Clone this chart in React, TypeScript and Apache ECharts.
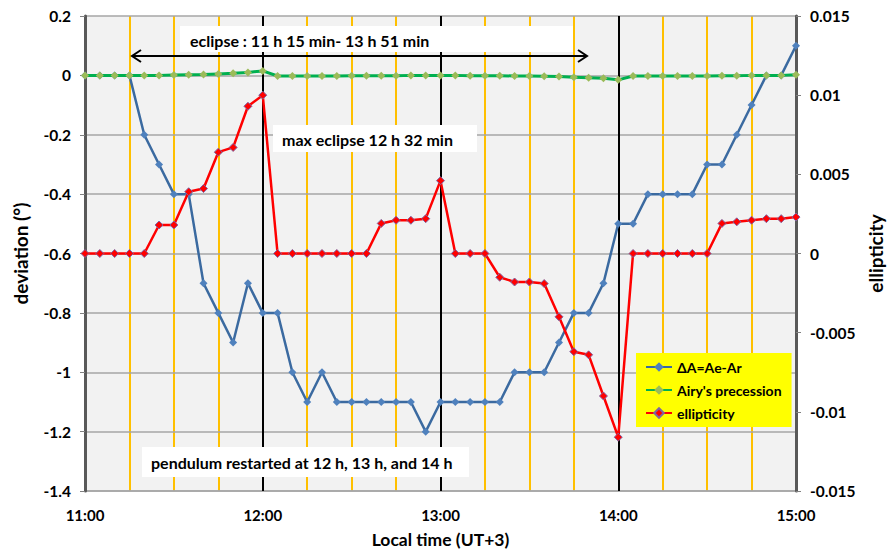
import React, { useEffect, useRef } from "react";
import * as echarts from "echarts";

const times = [
  "11:00", "11:05", "11:10", "11:15", "11:20", "11:25", "11:30", "11:35", "11:40", "11:45", "11:50", "11:55",
  "12:00", "12:05", "12:10", "12:15", "12:20", "12:25", "12:30", "12:35", "12:40", "12:45", "12:50", "12:55",
  "13:00", "13:05", "13:10", "13:15", "13:20", "13:25", "13:30", "13:35", "13:40", "13:45", "13:50", "13:55",
  "14:00", "14:05", "14:10", "14:15", "14:20", "14:25", "14:30", "14:35", "14:40", "14:45", "14:50", "14:55",
  "15:00",
];

const deltaA = [
  0, 0, 0, 0, -0.2, -0.3, -0.4, -0.4, -0.7, -0.8, -0.9, -0.7,
  -0.8, -0.8, -1.0, -1.1, -1.0, -1.1, -1.1, -1.1, -1.1, -1.1, -1.1, -1.2,
  -1.1, -1.1, -1.1, -1.1, -1.1, -1.0, -1.0, -1.0, -0.9, -0.8, -0.8, -0.7,
  -0.5, -0.5, -0.4, -0.4, -0.4, -0.4, -0.3, -0.3, -0.2, -0.1, 0, 0,
  0.1,
];

const airy = [
  0, 0, 0, 0, 0, 0, 0.001, 0.002, 0.003, 0.005, 0.007, 0.01,
  0.015, -0.002, -0.002, -0.002, -0.002, -0.002, -0.001, -0.001, -0.001, -0.001, 0, 0,
  0, 0, -0.001, -0.001, -0.001, -0.002, -0.002, -0.003, -0.004, -0.006, -0.008, -0.01,
  -0.015, -0.002, -0.002, -0.002, -0.002, -0.002, -0.002, -0.001, -0.001, 0, 0, 0,
  0.002,
];

const ellipticity = [
  0, 0, 0, 0, 0, 0.0018, 0.0018, 0.0039, 0.0041, 0.0064, 0.0067, 0.0093,
  0.01, 0, 0, 0, 0, 0, 0, 0, 0.0019, 0.0021, 0.0021, 0.0022,
  0.0046, 0, 0, 0, -0.0015, -0.0018, -0.0018, -0.0019, -0.004, -0.0062, -0.0064, -0.009,
  -0.0116, 0, 0, 0, 0, 0, 0, 0.0019, 0.002, 0.0021, 0.0022, 0.0022,
  0.0023,
];

const leftTicks = { min: -1.4, max: 0.2, interval: 0.2 };
const rightTicks = { min: -0.015, max: 0.015, interval: 0.005 };

const seriesNames = ["ΔA=Ae-Ar", "Airy's precession", "ellipticity"];
const notes = [
  "eclipse : 11 h 15 min- 13 h 51 min",
  "max eclipse 12 h 32 min",
  "pendulum restarted at 12 h, 13 h, and 14 h",
];

const FONT = "Lato";

export default function App() {
  const ref = useRef<HTMLDivElement>(null);

  useEffect(() => {
    const chart = echarts.init(ref.current!, null, { renderer: "svg" });
    const bold = { fontFamily: FONT, fontWeight: "bold" as const, color: "#000" };
    chart.setOption({
      animation: false,
      backgroundColor: "#ffffff",
      textStyle: { fontFamily: FONT },
      grid: {
        left: 85,
        right: 98,
        top: 16,
        bottom: 58,
        show: true,
        backgroundColor: "#f2f2f2",
        borderWidth: 0,
      },
      legend: {
        orient: "vertical",
        left: 636,
        top: 353,
        backgroundColor: "#ffff00",
        padding: [7, 10, 7, 9],
        itemGap: 9,
        itemWidth: 26,
        itemHeight: 12,
        textStyle: { ...bold, fontSize: 14 },
        data: seriesNames,
      },
      xAxis: [
        {
          type: "category",
          data: times,
          boundaryGap: false,
          axisLine: { show: true, onZero: false, lineStyle: { color: "#a6a6a6", width: 1.5 } },
          axisTick: { show: false },
          axisLabel: { interval: 11, ...bold, fontSize: 15, margin: 16 },
          splitLine: { show: true, interval: 2, lineStyle: { color: "#ffc000", width: 2 } },
          name: "Local time (UT+3)",
          nameLocation: "middle",
          nameGap: 39,
          nameTextStyle: { ...bold, fontSize: 17.5 },
        },
        {
          type: "category",
          data: times,
          boundaryGap: false,
          position: "bottom",
          z: 1,
          axisLine: { show: false },
          axisTick: { show: false },
          axisLabel: { show: false },
          splitLine: { show: true, interval: 11, lineStyle: { color: "#000000", width: 2 } },
        },
      ],
      yAxis: [
        {
          type: "value",
          ...leftTicks,
          z: 1,
          axisLine: { show: true, lineStyle: { color: "#595959", width: 3 } },
          axisTick: { show: true, length: 5, lineStyle: { color: "#808080" } },
          axisLabel: { ...bold, fontSize: 15.5, margin: 14 },
          splitLine: { show: true, lineStyle: { color: "#a6a6a6", width: 1.5 } },
          name: "deviation (°)",
          nameLocation: "middle",
          nameGap: 55,
          nameTextStyle: { ...bold, fontSize: 19 },
        },
        {
          type: "value",
          position: "right",
          ...rightTicks,
          z: 1,
          axisLine: { show: true, lineStyle: { color: "#595959", width: 3 } },
          axisTick: { show: true, length: 5, lineStyle: { color: "#808080" } },
          axisLabel: { ...bold, fontSize: 15.5, margin: 14 },
          splitLine: { show: false },
          name: "ellipticity",
          nameLocation: "middle",
          nameGap: 65,
          nameTextStyle: { ...bold, fontSize: 19 },
        },
      ],
      series: [
        {
          name: seriesNames[0],
          type: "line",
          data: deltaA,
          xAxisIndex: 0,
          yAxisIndex: 0,
          symbol: "diamond",
          symbolSize: 8,
          lineStyle: { color: "#3b6aa0", width: 2.5 },
          itemStyle: { color: "#4f81bd" },
          z: 3,
        },
        {
          name: seriesNames[1],
          type: "line",
          data: airy,
          xAxisIndex: 0,
          yAxisIndex: 0,
          symbol: "diamond",
          symbolSize: 8,
          lineStyle: { color: "#00b050", width: 3 },
          itemStyle: { color: "#9bbb59" },
          z: 4,
        },
        {
          name: seriesNames[2],
          type: "line",
          data: ellipticity,
          xAxisIndex: 0,
          yAxisIndex: 1,
          symbol: "diamond",
          symbolSize: 8,
          lineStyle: { color: "#ff0000", width: 2.5 },
          itemStyle: { color: "#ff0000", borderColor: "#8064a2", borderWidth: 1 },
          z: 5,
        },
      ],
      graphic: [
        { type: "rect", z: 20, shape: { x: 180, y: 26, width: 393, height: 26 }, style: { fill: "#ffffff" } },
        {
          type: "text", z: 21, x: 190, y: 40,
          style: { text: notes[0], font: `bold 16px ${FONT}`, fill: "#000", verticalAlign: "middle" },
        },
        { type: "line", z: 21, shape: { x1: 132, y1: 56, x2: 587, y2: 56 }, style: { stroke: "#000", lineWidth: 2 } },
        {
          type: "polyline", z: 21,
          shape: { points: [[141, 50], [132, 56], [141, 62]] },
          style: { stroke: "#000", lineWidth: 2, fill: "none" },
        },
        {
          type: "polyline", z: 21,
          shape: { points: [[578, 50], [587, 56], [578, 62]] },
          style: { stroke: "#000", lineWidth: 2, fill: "none" },
        },
        { type: "rect", z: 20, shape: { x: 273, y: 125, width: 204, height: 27 }, style: { fill: "#ffffff" } },
        {
          type: "text", z: 21, x: 282, y: 139,
          style: { text: notes[1], font: `bold 16px ${FONT}`, fill: "#000", verticalAlign: "middle" },
        },
        { type: "rect", z: 20, shape: { x: 142, y: 447, width: 327, height: 30 }, style: { fill: "#ffffff" } },
        {
          type: "text", z: 21, x: 151, y: 462,
          style: { text: notes[2], font: `bold 16px ${FONT}`, fill: "#000", verticalAlign: "middle" },
        },
      ],
    });
    return () => chart.dispose();
  }, []);

  return (
    <div
      ref={ref}
      style={{ position: "fixed", left: 0, top: 0, width: 894, height: 553 }}
    />
  );
}
